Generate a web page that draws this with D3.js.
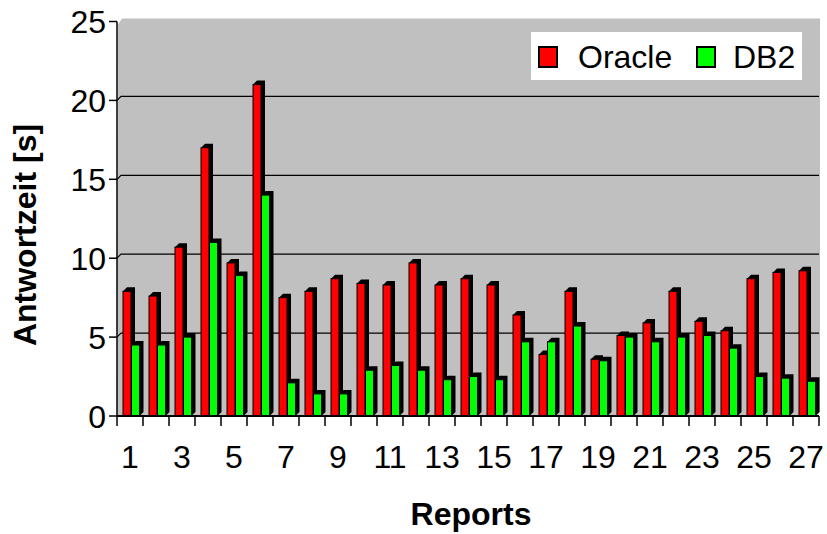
<!DOCTYPE html>
<html>
<head>
<meta charset="utf-8">
<script src="https://cdn.jsdelivr.net/npm/d3@7/dist/d3.min.js"></script>
<style>
  body { margin: 0; background: #fff; }
  text { font-family: Arial, "Liberation Sans", sans-serif; }
</style>
</head>
<body>
<div id="chart"></div>
<script>
const DEPTH = 4 // 3d offset of the back wall and bar sides
const BAR_W = 8

var reports = d3.range(1, 28);
var oracle = [7.9, 7.6, 10.7, 17.0, 9.7, 21.0, 7.5, 7.9, 8.7, 8.4, 8.3, 9.7, 8.3, 8.7,
              8.3, 6.4, 3.9, 7.9, 3.6, 5.1, 5.9, 7.9, 6.0, 5.4, 8.7, 9.1, 9.2];
var db2 = [4.5, 4.5, 5.0, 11.0, 8.9, 14.0, 2.1, 1.4, 1.4, 2.9, 3.2, 2.9, 2.3, 2.5,
           2.3, 4.7, 4.7, 5.7, 3.5, 5.0, 4.7, 5.0, 5.1, 4.3, 2.5, 2.4, 2.2];
var yTicks = [0, 5, 10, 15, 20, 25];
var xLabels = reports.filter(function (d) { return d % 2 === 1; });

var width = 827, height = 534;
var plotLeft = 117, plotRight = 819, plotTop = 21.5, plotBottom = 416;

var svg = d3.select("#chart").append("svg")
    .attr("width", width)
    .attr("height", height)
    .style("display", "block");

var x = d3.scaleBand()
    .domain(reports)
    .range([plotLeft, plotRight]);

var y = d3.scaleLinear()
    .domain([0, 25])
    .range([plotBottom, plotTop]);

// back wall
svg.append("path")
    .attr("d", "M" + (plotLeft + 1) + "," + (plotTop + 3) + " L" + (plotLeft + DEPTH + 1) + "," + (plotTop - 3) +
        " L" + (plotRight + 1) + "," + (plotTop - 3) + " L" + (plotRight + 1) + "," + (plotBottom - DEPTH) +
        " L" + (plotRight - 3) + "," + plotBottom + " L" + plotLeft + "," + plotBottom + "Z")
    .attr("fill", "#c0c0c0");

// gridlines on the back wall
svg.append("g").selectAll("path")
    .data(yTicks.filter(function (d) { return d > 0 && d < 25; }))
    .enter().append("path")
    .attr("d", function (d) {
        return "M" + plotLeft + "," + y(d) + " l" + DEPTH + "," + (-DEPTH) + " L" + plotRight + "," + (y(d) - DEPTH);
    })
    .attr("fill", "none")
    .attr("stroke", "#000")
    .attr("stroke-width", 1.2);

// bars, drawn as a black 3d block with the coloured front face on top
function bar(g, v, x0, color) {
    var x1 = x0 + BAR_W, yt = y(v), d = DEPTH;
    g.append("path")
        .attr("d", "M" + x0 + "," + plotBottom + " L" + x0 + "," + yt + " l" + d + "," + (-d) +
            " L" + (x1 + d) + "," + (yt - d) + " L" + (x1 + d) + "," + (plotBottom - d) +
            " L" + x1 + "," + plotBottom + "Z")
        .attr("fill", "#000");
    g.append("rect")
        .attr("x", x0)
        .attr("y", yt)
        .attr("width", BAR_W)
        .attr("height", plotBottom - yt)
        .attr("fill", color)
        .attr("stroke", "#000")
        .attr("stroke-width", 1);
}

var bars = svg.append("g");
reports.forEach(function (r, i) {
    var c = x(r) + x.bandwidth() / 2;
    bar(bars, oracle[i], c - 7, "#ff0000");
    bar(bars, db2[i], c + 1.5, "#00ff00");
});

// y axis
var yAxis = svg.append("g");
yAxis.append("line")
    .attr("x1", plotLeft).attr("x2", plotLeft)
    .attr("y1", plotTop).attr("y2", plotBottom)
    .attr("stroke", "#000").attr("stroke-width", 1.5);
yAxis.selectAll(".tick")
    .data(yTicks)
    .enter().append("line")
    .attr("x1", plotLeft - 8).attr("x2", plotLeft)
    .attr("y1", function (d) { return y(d); })
    .attr("y2", function (d) { return y(d); })
    .attr("stroke", "#000").attr("stroke-width", 1.5);
yAxis.selectAll("text")
    .data(yTicks)
    .enter().append("text")
    .attr("x", 106)
    .attr("y", function (d) { return y(d); })
    .attr("dy", "0.36em")
    .attr("text-anchor", "end")
    .style("font-size", "32px")
    .text(function (d) { return d; });

// x axis
var xAxis = svg.append("g");
xAxis.append("line")
    .attr("x1", plotLeft).attr("x2", plotRight)
    .attr("y1", plotBottom).attr("y2", plotBottom)
    .attr("stroke", "#000").attr("stroke-width", 2);
xAxis.selectAll(".tick")
    .data(reports.concat([28]))
    .enter().append("line")
    .attr("x1", function (d) { return d === 28 ? plotRight : x(d); })
    .attr("x2", function (d) { return d === 28 ? plotRight : x(d); })
    .attr("y1", plotBottom).attr("y2", plotBottom + 10)
    .attr("stroke", "#000").attr("stroke-width", 1.5);
xAxis.selectAll("text")
    .data(xLabels)
    .enter().append("text")
    .attr("x", function (d) { return x(d) + x.bandwidth() / 2; })
    .attr("y", 468)
    .attr("text-anchor", "middle")
    .style("font-size", "32px")
    .text(function (d) { return d; });

// axis titles
svg.append("text")
    .attr("x", 471)
    .attr("y", 525)
    .attr("text-anchor", "middle")
    .style("font-size", "32px")
    .style("font-weight", "bold")
    .text("Reports");

svg.append("text")
    .attr("transform", "translate(36,235)rotate(-90)")
    .attr("text-anchor", "middle")
    .style("font-size", "32px")
    .style("font-weight", "bold")
    .text("Antwortzeit [s]");

// legend
var legend = svg.append("g");
legend.append("rect")
    .attr("x", 531).attr("y", 32)
    .attr("width", 271).attr("height", 48)
    .attr("fill", "#fff");
[["Oracle", "#ff0000", 539, 578], ["DB2", "#00ff00", 697, 733]].forEach(function (d) {
    legend.append("rect")
        .attr("x", d[2]).attr("y", 47)
        .attr("width", 18).attr("height", 20)
        .attr("fill", d[1])
        .attr("stroke", "#000").attr("stroke-width", 2);
    legend.append("text")
        .attr("x", d[3]).attr("y", 68)
        .style("font-size", "32px")
        .text(d[0]);
});
</script>
</body>
</html>
